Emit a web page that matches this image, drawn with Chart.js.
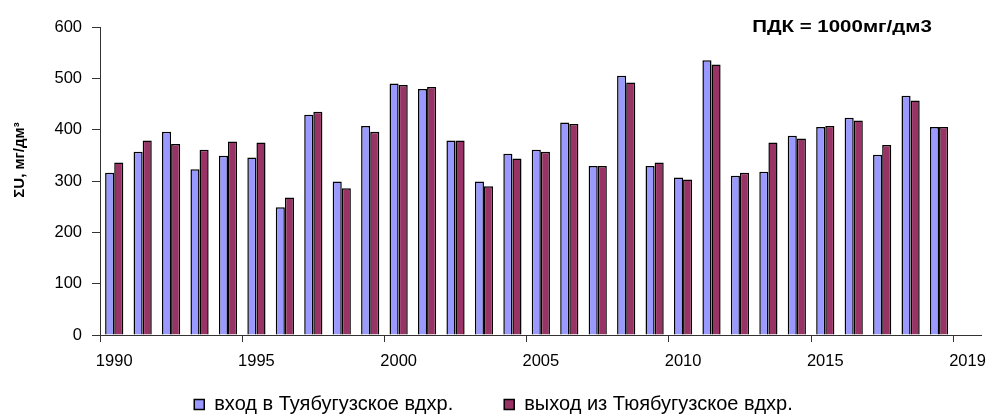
<!DOCTYPE html>
<html>
<head>
<meta charset="utf-8">
<script src="https://cdn.jsdelivr.net/npm/chart.js@4.4.0/dist/chart.umd.min.js"></script>
<style>
html,body{margin:0;padding:0;background:#ffffff;}
canvas{display:block;}
</style>
</head>
<body>
<canvas id="c" width="996" height="414"></canvas>
<script>
// ---- data ----
const categories = ['1990','1991','1992','1993','1994','1995','1996','1997','1998','1999',
                    '2000','2001','2002','2003','2004','2005','2006','2007','2008','2009',
                    '2010','2011','2012','2013','2014','2015','2016','2017','2018','2019',''];
const inflow  = [316,357,396,323,349,346,249,429,299,407,
                 490,479,379,299,353,361,414,329,505,329,
                 307,535,310,318,388,405,423,351,466,405];
const outflow = [336,379,372,361,377,375,268,435,286,396,
                 487,483,379,290,344,357,411,329,492,336,
                 303,527,316,375,383,407,418,370,457,405];
const xTickLabels = ['1990','1995','2000','2005','2010','2015','2019'];
const seriesNames = ['вход в Туябугузское вдхр.', 'выход из Тюябугузское вдхр.'];
const yAxisTitle = 'ΣU, мг/дм³';
const noteText = 'ПДК = 1000мг/дм3';
const yMin = 0, yMax = 600, yStep = 100;

// ---- styling ----
const FONT = "'Liberation Sans', Arial, sans-serif";
const AXIS = '#333333';
const LEGEND_FONT = 20;
const LEGEND_PAD = 51;
const LEGEND_ROW_TOP = 394.5;
const LEGEND_DX = 0.5;

const extras = {
  id: 'extras',
  afterLayout(chart) {
    const lg = chart.legend;
    if (!lg) return;
    lg.top = LEGEND_ROW_TOP - LEGEND_PAD;
    lg.height = LEGEND_PAD + LEGEND_FONT + 4;
    lg.bottom = lg.top + lg.height;
    lg.left += LEGEND_DX;
    lg.right += LEGEND_DX;
  },
  afterDraw(chart) {
    const ctx = chart.ctx;
    ctx.save();
    ctx.fillStyle = '#000';
    ctx.font = 'bold 16px ' + FONT;
    ctx.textAlign = 'center';
    ctx.textBaseline = 'middle';
    ctx.translate(842, 28);
    ctx.scale(1.28, 1);
    ctx.fillText(noteText, 0, 0);
    ctx.restore();

    ctx.save();
    ctx.fillStyle = '#000';
    ctx.font = 'bold 15px ' + FONT;
    ctx.textAlign = 'center';
    ctx.textBaseline = 'middle';
    ctx.translate(20, 160);
    ctx.rotate(-Math.PI / 2);
    ctx.fillText(yAxisTitle, 0, 0);
    ctx.restore();
  }
};

new Chart(document.getElementById('c'), {
  type: 'bar',
  data: {
    labels: categories,
    datasets: [
      { label: seriesNames[0], data: inflow,  backgroundColor: '#9999FF', borderColor: '#000000', borderWidth: 1.5, borderSkipped: 'start' },
      { label: seriesNames[1], data: outflow, backgroundColor: '#993366', borderColor: '#000000', borderWidth: 1.5, borderSkipped: 'start' }
    ]
  },
  options: {
    responsive: false,
    animation: false,
    events: [],
    layout: { padding: { left: 0, right: 10, top: 27, bottom: 0 } },
    datasets: { bar: { categoryPercentage: 0.64, barPercentage: 1.0 } },
    plugins: {
      legend: {
        position: 'bottom',
        maxHeight: 39,
        labels: {
          boxWidth: 10, boxHeight: 10, padding: LEGEND_PAD,
          color: '#000', font: { family: FONT, size: LEGEND_FONT }
        }
      },
      tooltip: { enabled: false },
      title: { display: false }
    },
    scales: {
      x: {
        type: 'category',
        offset: true,
        afterFit(s) { s.height = 40; },
        grid: {
          offset: true,
          drawOnChartArea: false,
          drawTicks: true,
          tickLength: 7,
          color: (c) => (c.index % 5 === 0 ? AXIS : 'rgba(0,0,0,0)')
        },
        border: { display: true, color: AXIS, width: 1 },
        ticks: {
          autoSkip: false, maxRotation: 0, minRotation: 0,
          padding: 10,
          color: '#000',
          font: { family: FONT, size: 16.5 },
          callback: (v, i) => (i % 5 === 0 ? xTickLabels[i / 5] : '')
        }
      },
      y: {
        min: yMin, max: yMax,
        afterFit(s) { s.width = 100; },
        grid: { drawOnChartArea: false, drawTicks: true, tickLength: 8, color: AXIS },
        border: { display: true, color: AXIS, width: 1 },
        ticks: {
          stepSize: yStep, padding: 10, color: '#000',
          font: { family: FONT, size: 16.5 }
        }
      }
    }
  },
  plugins: [extras]
});
</script>
</body>
</html>
